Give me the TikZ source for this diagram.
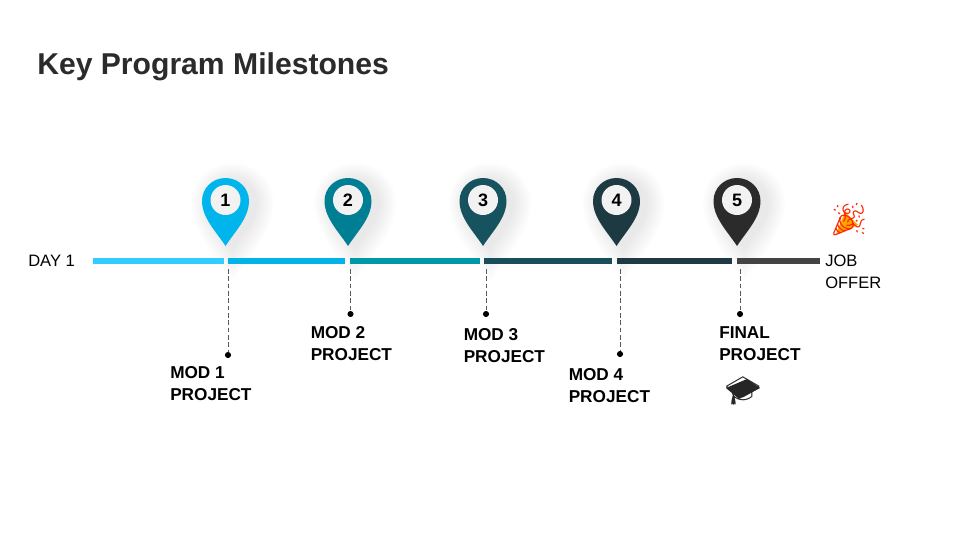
\documentclass[tikz,border=0pt]{standalone}
\usepackage{fontspec}
\setmainfont{Liberation Sans}
\newfontfamily\emojifont{Noto Emoji}
\definecolor{inkDark}{HTML}{2B2B2B}
\tikzset{
  barDecorate/.style={shape=rectangle,inner sep=0pt,minimum height=5pt},
  dotDecorate/.style={shape=circle,inner sep=0pt,minimum size=4.6pt,fill=black},
  capDecorate/.style={shape=circle,inner sep=0pt,minimum size=22.5pt,fill=white!95!black,font=\bfseries\fontsize{13.5}{15}\selectfont},
  labelDecorate/.style={anchor=north west,inner sep=0pt,align=left,font=\bfseries\fontsize{12.9}{16.5}\selectfont},
  plainDecorate/.style={inner sep=0pt,align=left,font=\fontsize{12.4}{16.5}\selectfont},
  lineDecorate/.style={-,line width=0.75pt,black!65,dash pattern=on 3.5pt off 2pt}
}
\newcommand{\pinshape}{(0,0) .. controls (-9,-14) and (-23.5,-28) .. (-23.5,-45)
  .. controls (-23.5,-58) and (-13,-68) .. (0,-68)
  .. controls (13,-68) and (23.5,-58) .. (23.5,-45)
  .. controls (23.5,-28) and (9,-14) .. (0,0) -- cycle}
\begin{document}
\begin{tikzpicture}[x=0.75pt,y=-0.75pt]
\useasboundingbox (0,0) rectangle (960,540);
\node (title) at (37,66.5) [anchor=west,inner sep=0pt,text=inkDark,font=\bfseries\fontsize{22.6}{28}\selectfont] {Key Program Milestones};
%% pins with their soft shadow
\foreach \pinname/\x/\pincol in {
  1/225.5/00B4EC, 2/348/007E94, 3/483/17525F, 4/616.5/1D3A42, 5/737/2B2B2B}
{
  \definecolor{pincol}{HTML}{\pincol}
  \foreach \s in {1.05,1.12,...,1.75}
    \fill[black,opacity=0.009,shift={(\x+7,203)},scale=\s,shift={(0,45)}] \pinshape;
  \fill[pincol,shift={(\x,246)}] \pinshape;
  \node (pin\pinname) at (\x,200) [capDecorate] {\pinname};
}
%% bar pieces
\foreach \barname/\xa/\xb/\barcol in {
  1/93/224/33CCFF, 2/228/345/00B4E8, 3/350/480/0097A7,
  4/484/612/1A4E5C, 5/617/732/1F3A42, 6/737/820/434343}
{
  \definecolor{barcol}{HTML}{\barcol}
  \node (bar\barname) at ({(\xa+\xb)/2},261) [barDecorate,fill=barcol,minimum width={(\xb-\xa)*0.75pt}] {};
}
%% leaders and labels
\foreach \name/\x/\y/\lx/\ly/\text in {
  1/228/355/170/366/MOD 1, 2/350.5/314/310.5/326/MOD 2, 3/486/314/463.5/328/MOD 3,
  4/620/354/568.5/368/MOD 4}
{
  \coordinate (top\name) at (\x,269);
  \node (dot\name) at (\x,\y) [dotDecorate] {};
  \node (label\name) at (\lx,\ly) [labelDecorate] {\text\\PROJECT};
  \draw[lineDecorate] (top\name) -- (dot\name);
}
\coordinate (top5) at (740,269);
\node (dot5) at (740,314) [dotDecorate] {};
\node (label5) at (719,326) [labelDecorate] {FINAL\\PROJECT};
\draw[lineDecorate] (top5) -- (dot5);
%% ends of the line
\node (start) at (28,261) [plainDecorate,anchor=west] {DAY 1};
\node (offer) at (825,271.5) [plainDecorate,anchor=west] {JOB\\OFFER};
\fill[orange!70!yellow] (836,234) -- (845,212) -- (858,225) -- cycle;
\node (popper) at (849,220) [inner sep=0pt,text=red!70!orange,font=\emojifont\fontsize{24}{24}\selectfont] {🎉};
\fill[black!85] (726,388) -- (747,379) -- (760,388) -- (739,399) -- cycle;
\node (gradcap) at (743,391) [inner sep=0pt,text=black!85,font=\emojifont\fontsize{21}{21}\selectfont] {🎓};
\end{tikzpicture}
\end{document}
